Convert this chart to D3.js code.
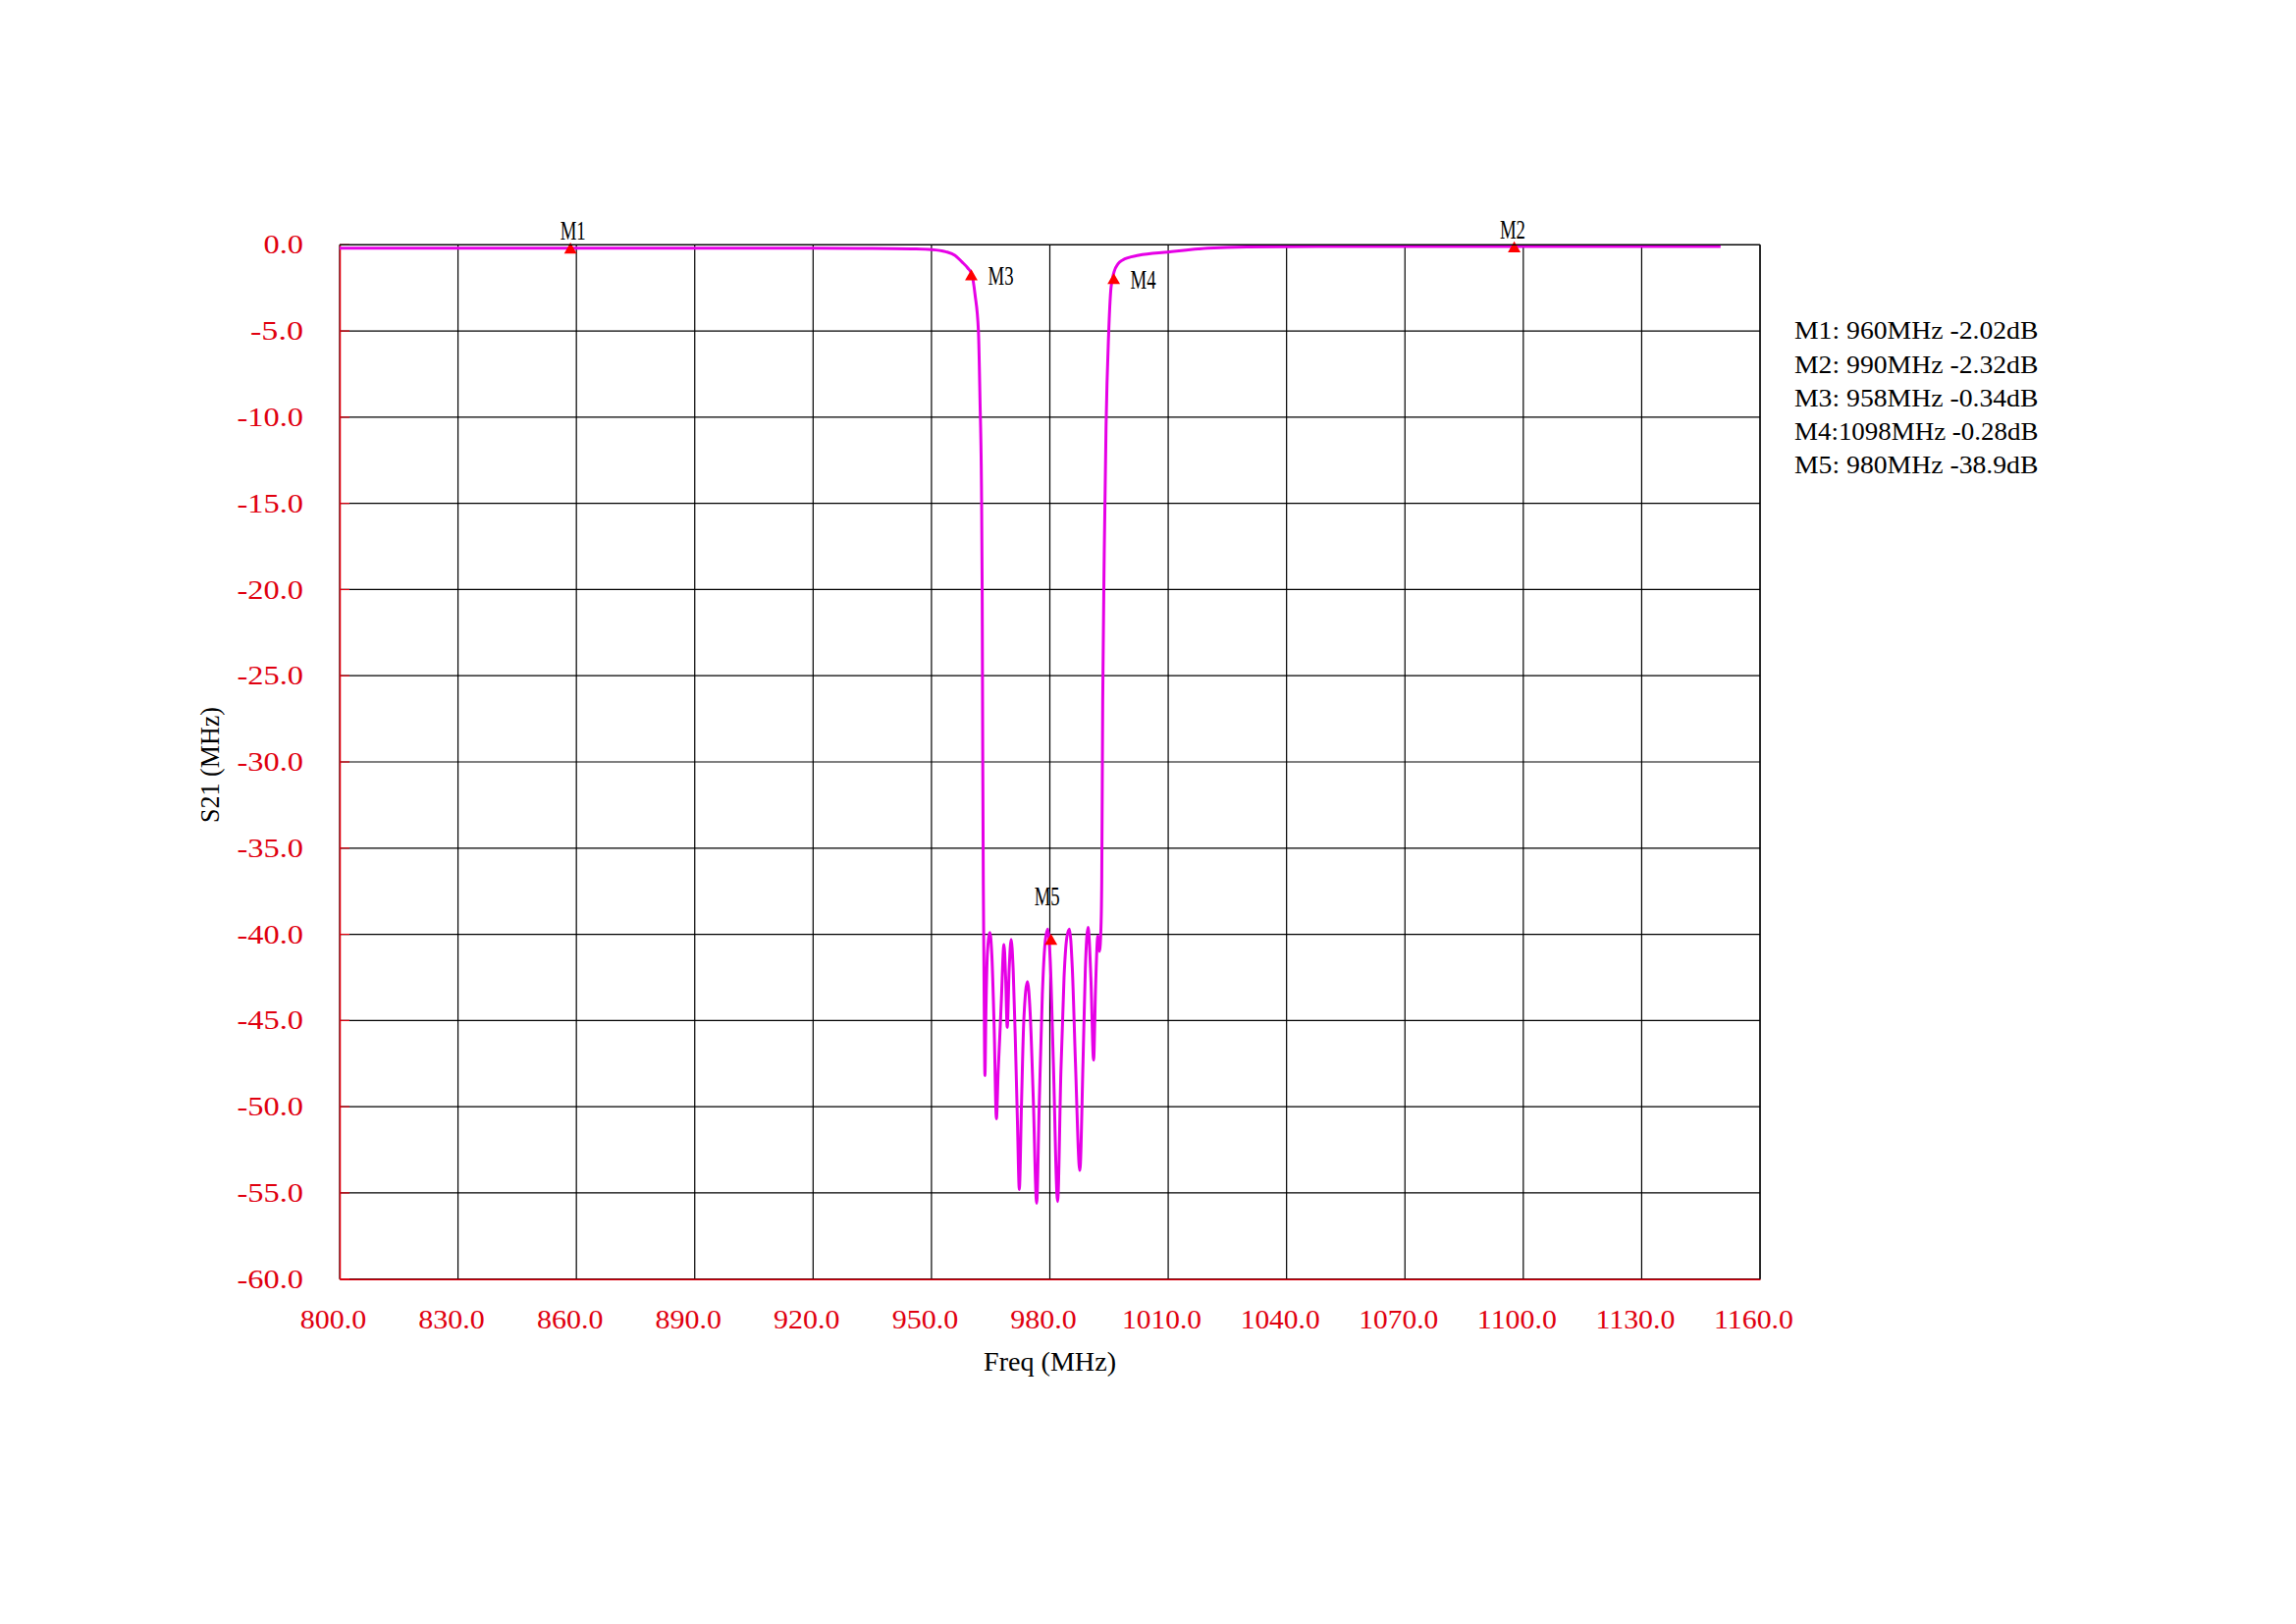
<!DOCTYPE html>
<html>
<head>
<meta charset="utf-8">
<script src="https://cdn.jsdelivr.net/npm/d3@7"></script>
<style>
  html, body { margin: 0; padding: 0; background: #ffffff; }
  svg { display: block; }
</style>
</head>
<body>
<script>
// ---------------- DATA ----------------
const xTicks = [800, 830, 860, 890, 920, 950, 980, 1010, 1040, 1070, 1100, 1130, 1160];
const yTicks = [0, -5, -10, -15, -20, -25, -30, -35, -40, -45, -50, -55, -60];

const freqMHz = [
  800, 830, 860, 890, 920, 935, 945, 950, 953.6, 956, 957.7, 959.2, 960.2,
  961.05, 961.9, 962.3, 962.7, 962.85, 963.0, 963.14, 963.3, 963.55,
  963.8, 964.2, 964.8, 965.3, 965.9, 966.46, 966.9, 967.3, 967.7, 968.37,
  968.8, 969.2, 969.7, 970.19, 970.7, 971.3, 971.8, 972.26, 972.8, 973.4,
  974.34, 975.0, 975.8, 976.66, 977.3, 978.1, 978.8, 979.48, 980.1, 980.9,
  981.97, 982.8, 983.6, 984.3, 984.95, 985.7, 986.5, 987.6, 988.4, 989.0,
  989.68, 990.4, 991.09, 991.6, 992.17, 992.58, 993.0, 993.15, 993.4, 993.8,
  994.25, 994.9, 995.5, 996.3, 997.3, 998.4, 1002.5, 1010, 1020, 1030,
  1060, 1100, 1150
];
const s21dB = [
  -0.20, -0.19, -0.19, -0.19, -0.20, -0.21, -0.24, -0.28, -0.40, -0.62, -0.99, -1.35, -1.70,
  -2.9, -5.0, -9.0, -14.7, -20, -30, -37.1, -42, -48.2,
  -44.5, -41, -39.9, -41.2, -45.5, -50.7, -48, -46.0, -43.9, -40.6,
  -42.5, -45.4, -42.0, -40.3, -42, -46.5, -51, -54.8, -50, -45,
  -42.75, -44.5, -49.5, -55.6, -50, -43.5, -40.5, -39.7, -41.5, -47.5,
  -55.5, -48, -42.5, -40.2, -39.7, -42, -47.5, -53.7, -47.5, -42,
  -39.6, -42.5, -47.3, -43, -40.1, -41.0, -39.3, -37.0, -26.5, -17.7,
  -10.5, -5.2, -2.5, -1.56, -1.1, -0.89, -0.61, -0.42, -0.2, -0.12,
  -0.1, -0.1, -0.1
];

const markerNames = ["M1", "M2", "M3", "M4", "M5"];
const markerFreq  = [858.5, 1097.7, 960.1, 996.2, 980.3];
const markerDb    = [-0.30, -0.22, -1.85, -2.07, -40.39];

const legendLines = [
  "M1: 960MHz -2.02dB",
  "M2: 990MHz -2.32dB",
  "M3: 958MHz -0.34dB",
  "M4:1098MHz -0.28dB",
  "M5: 980MHz -38.9dB"
];

const xTitle = "Freq (MHz)";
const yTitle = "S21 (MHz)";

// ---------------- LAYOUT / STYLE ----------------
const W = 2339, H = 1654;
const X0 = 346, X1 = 1793, Y0 = 249.3, Y1 = 1302.7;
const RED = "#e0000f";
const LINE = "#e600e6";
const FONT = "'Liberation Serif', 'DejaVu Serif', serif";
const CW = 13.5; // per-character advance (monospaced look)

// label placement relative to marker (layout, not data)
const markerLabelLayout = {
  M1: { dx: 2.5, dy: -10.3, anchor: "middle" },
  M2: { dx: -1.7, dy: -9.8, anchor: "middle" },
  M3: { dx: 17, dy: 8.2, anchor: "start" },
  M4: { dx: 17, dy: 8.4, anchor: "start" },
  M5: { dx: -4, dy: -36.7, anchor: "middle" }
};

const svg = d3.select("body").append("svg")
  .attr("width", W).attr("height", H)
  .attr("viewBox", `0 0 ${W} ${H}`);
svg.append("rect").attr("width", W).attr("height", H).attr("fill", "#fff");

const x = d3.scaleLinear().domain([800, 1160]).range([X0, X1]);
const y = d3.scaleLinear().domain([-60, 0]).range([Y1, Y0]);

function fit(sel, cw) {
  sel.attr("textLength", function () { return this.textContent.length * cw; })
     .attr("lengthAdjust", "spacingAndGlyphs");
}

// Grid lines (black)
const grid = svg.append("g").attr("stroke", "#000").attr("stroke-width", 1.2);
grid.selectAll("line.v").data(xTicks).join("line")
  .attr("class", "v")
  .attr("x1", d => x(d)).attr("x2", d => x(d))
  .attr("y1", Y0).attr("y2", Y1);
grid.selectAll("line.h").data(yTicks).join("line")
  .attr("class", "h")
  .attr("x1", X0).attr("x2", X1)
  .attr("y1", d => y(d)).attr("y2", d => y(d));

// Red inner tick stubs on left axis
svg.append("g").attr("stroke", RED).attr("stroke-width", 1.2)
  .selectAll("line").data(yTicks).join("line")
  .attr("x1", X0).attr("x2", X0 + 10)
  .attr("y1", d => y(d)).attr("y2", d => y(d));

// Y axis (red, labels)
const yAxis = svg.append("g")
  .attr("transform", `translate(${X0},0)`)
  .call(d3.axisLeft(y).tickValues(yTicks).tickFormat(d3.format(".1f"))
        .tickSize(0).tickSizeOuter(0).tickPadding(37));
yAxis.select(".domain").attr("stroke", RED).attr("stroke-width", 1.5);
yAxis.selectAll("text")
  .attr("fill", RED).attr("font-family", FONT).attr("font-size", 27)
  .text(d => d3.format(".1f")(d).replace("\u2212", "-"))
  .call(fit, CW);

// X axis (red, labels)
const xAxis = svg.append("g")
  .attr("transform", `translate(0,${Y1})`)
  .call(d3.axisBottom(x).tickValues(xTicks).tickFormat(d3.format(".1f"))
        .tickSize(0).tickSizeOuter(0).tickPadding(31));
xAxis.select(".domain").attr("stroke", RED).attr("stroke-width", 1.5);
xAxis.selectAll("text")
  .attr("fill", RED).attr("font-family", FONT).attr("font-size", 27)
  .attr("dx", -7)
  .call(fit, CW);

// Axis titles
svg.append("text")
  .attr("x", (X0 + X1) / 2).attr("y", Y1 + 93)
  .attr("text-anchor", "middle")
  .attr("font-family", FONT).attr("font-size", 27).attr("fill", "#000")
  .text(xTitle).call(fit, CW);
svg.append("text")
  .attr("transform", `translate(223,${(Y0 + Y1) / 2 + 3}) rotate(-90)`)
  .attr("text-anchor", "middle")
  .attr("font-family", FONT).attr("font-size", 27).attr("fill", "#000")
  .text(yTitle).call(fit, 13.1);

// S21 curve
const pts = freqMHz.map((f, i) => [f, s21dB[i]]);
svg.append("path")
  .datum(pts)
  .attr("fill", "none")
  .attr("stroke", LINE)
  .attr("stroke-width", 3)
  .attr("stroke-linejoin", "round")
  .attr("d", d3.line().x(d => x(d[0])).y(d => y(d[1])).curve(d3.curveMonotoneX));

// Markers
const markers = markerNames.map((n, i) => ({ name: n, f: markerFreq[i], v: markerDb[i] }));
svg.append("g").selectAll("path").data(markers).join("path")
  .attr("transform", d => `translate(${x(d.f)},${y(d.v)})`)
  .attr("d", d3.symbol(d3.symbolTriangle, 72))
  .attr("fill", "#ff0000");
svg.append("g").selectAll("text").data(markers).join("text")
  .attr("x", d => x(d.f) + markerLabelLayout[d.name].dx)
  .attr("y", d => y(d.v) + markerLabelLayout[d.name].dy)
  .attr("text-anchor", d => markerLabelLayout[d.name].anchor)
  .attr("font-family", FONT).attr("font-size", 27).attr("fill", "#000")
  .text(d => d.name).call(fit, 13);

// Legend (marker readouts)
svg.append("g").selectAll("text").data(legendLines).join("text")
  .attr("x", 1828)
  .attr("y", (d, i) => 345.4 + i * 34.2)
  .attr("font-family", FONT).attr("font-size", 26).attr("fill", "#000")
  .text(d => d).call(fit, 13.8);

// Top & right borders (black)
svg.append("line").attr("x1", X0).attr("x2", X1).attr("y1", Y0).attr("y2", Y0)
  .attr("stroke", "#000").attr("stroke-width", 1.2);
svg.append("line").attr("x1", X1).attr("x2", X1).attr("y1", Y0).attr("y2", Y1)
  .attr("stroke", "#000").attr("stroke-width", 1.2);
</script>
</body>
</html>
